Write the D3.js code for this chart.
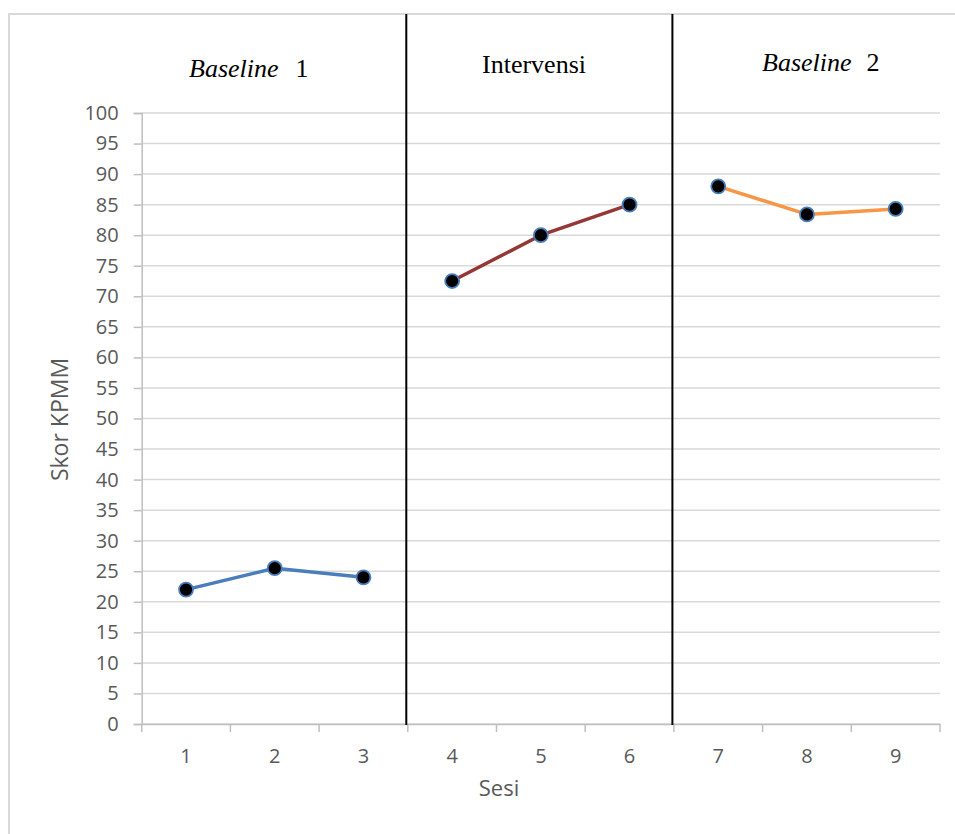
<!DOCTYPE html>
<html>
<head>
<meta charset="utf-8">
<script src="https://cdn.jsdelivr.net/npm/d3@7"></script>
<style>
  html, body { margin: 0; padding: 0; background: #fff; }
  svg { display: block; }
</style>
</head>
<body>
<svg id="chart" width="955" height="834"></svg>
<script>
// ---- data ----
const categories = ["1", "2", "3", "4", "5", "6", "7", "8", "9"];
const yTicks = [0, 5, 10, 15, 20, 25, 30, 35, 40, 45, 50, 55, 60, 65, 70, 75, 80, 85, 90, 95, 100];
const baseline1Sessions = ["1", "2", "3"];
const baseline1Values = [22, 25.5, 24];
const intervensiSessions = ["4", "5", "6"];
const intervensiValues = [72.5, 80, 85];
const baseline2Sessions = ["7", "8", "9"];
const baseline2Values = [88, 83.4, 84.3];
const phaseBoundaries = [3, 6]; // phase changes after these session indices

// ---- layout ----
const svg = d3.select("#chart");
const plot = { left: 141.7, right: 940, top: 113, bottom: 724 };

const x = d3.scaleBand().domain(categories).range([plot.left, plot.right]).padding(0);
const y = d3.scaleLinear().domain([0, 100]).range([plot.bottom, plot.top]);
const cx = d => x(d) + x.bandwidth() / 2;
const sans = "'Open Sans', sans-serif";

// outer chart border (extends beyond viewport on right/bottom)
svg.append("rect")
  .attr("x", 9).attr("y", 14).attr("width", 960).attr("height", 840)
  .attr("fill", "none").attr("stroke", "#d9d9d9").attr("stroke-width", 2);

// gridlines
svg.append("g").selectAll("line").data(yTicks).join("line")
  .attr("x1", plot.left).attr("x2", plot.right)
  .attr("y1", d => y(d)).attr("y2", d => y(d))
  .attr("stroke", "#d9d9d9").attr("stroke-width", 1.5);

// y axis
const yAxis = svg.append("g").attr("transform", `translate(${plot.left},0)`)
  .call(d3.axisLeft(y).tickValues(yTicks).tickSize(8).tickPadding(15));
yAxis.select(".domain").attr("stroke", "#bfbfbf").attr("stroke-width", 1.5);
yAxis.selectAll(".tick line").attr("stroke", "#bfbfbf").attr("stroke-width", 1.5);
yAxis.selectAll(".tick text")
  .attr("fill", "#595959").style("font-family", sans).style("font-size", "20px");

// x axis (ticks at category boundaries)
const xAxis = svg.append("g").attr("transform", `translate(0,${plot.bottom})`)
  .call(d3.axisBottom(x).tickSize(0).tickPadding(25));
xAxis.select(".domain").attr("stroke", "#bfbfbf").attr("stroke-width", 1.5);
xAxis.selectAll(".tick text")
  .attr("fill", "#595959").style("font-family", sans).style("font-size", "20px");
const boundaries = categories.map(c => x(c)).concat([x(categories[categories.length - 1]) + x.bandwidth()]);
svg.append("g").selectAll("line").data(boundaries).join("line")
  .attr("x1", d => d).attr("x2", d => d)
  .attr("y1", plot.bottom).attr("y2", plot.bottom + 8)
  .attr("stroke", "#bfbfbf").attr("stroke-width", 1.5);

// axis titles
svg.append("text")
  .attr("transform", `translate(68,${(plot.top + plot.bottom) / 2 + 1}) rotate(-90)`)
  .attr("text-anchor", "middle")
  .attr("fill", "#595959").style("font-family", sans).style("font-size", "23px")
  .text("Skor KPMM");
svg.append("text")
  .attr("x", 499).attr("y", 796)
  .attr("text-anchor", "middle")
  .attr("fill", "#595959").style("font-family", sans).style("font-size", "22px")
  .text("Sesi");

// phase change lines
svg.append("g").selectAll("line").data(phaseBoundaries).join("line")
  .attr("x1", d => x(categories[d]) - 1.5).attr("x2", d => x(categories[d]) - 1.5)
  .attr("y1", 14).attr("y2", plot.bottom + 1)
  .attr("stroke", "#000").attr("stroke-width", 2);

// phase titles
const serif = "'Liberation Serif', 'Times New Roman', serif";
const t1 = svg.append("text").attr("x", 189).attr("y", 77)
  .attr("fill", "#000").style("font-family", serif).style("font-size", "26px");
t1.append("tspan").style("font-style", "italic").text("Baseline");
t1.append("tspan").attr("dx", 17).text("1");

svg.append("text").attr("x", 534).attr("y", 73).attr("text-anchor", "middle")
  .attr("fill", "#000").style("font-family", serif).style("font-size", "26px")
  .text("Intervensi");

const t3 = svg.append("text").attr("x", 762).attr("y", 71)
  .attr("fill", "#000").style("font-family", serif).style("font-size", "26px");
t3.append("tspan").style("font-style", "italic").text("Baseline");
t3.append("tspan").attr("dx", 15).text("2");

// series
const series = [
  { sessions: baseline1Sessions, values: baseline1Values, color: "#4a7ebb" },
  { sessions: intervensiSessions, values: intervensiValues, color: "#953735" },
  { sessions: baseline2Sessions, values: baseline2Values, color: "#f79646" }
];
const line = d3.line().x(d => cx(d[0])).y(d => y(d[1]));
series.forEach(s => {
  const pts = s.sessions.map((c, i) => [c, s.values[i]]);
  svg.append("path").datum(pts)
    .attr("d", line).attr("fill", "none")
    .attr("stroke", s.color).attr("stroke-width", 3.5).attr("stroke-linejoin", "round");
  svg.append("g").selectAll("circle").data(pts).join("circle")
    .attr("cx", d => cx(d[0])).attr("cy", d => y(d[1])).attr("r", 7)
    .attr("fill", "#000").attr("stroke", "#4a7ebb").attr("stroke-width", 1.8);
});
</script>
</body>
</html>
